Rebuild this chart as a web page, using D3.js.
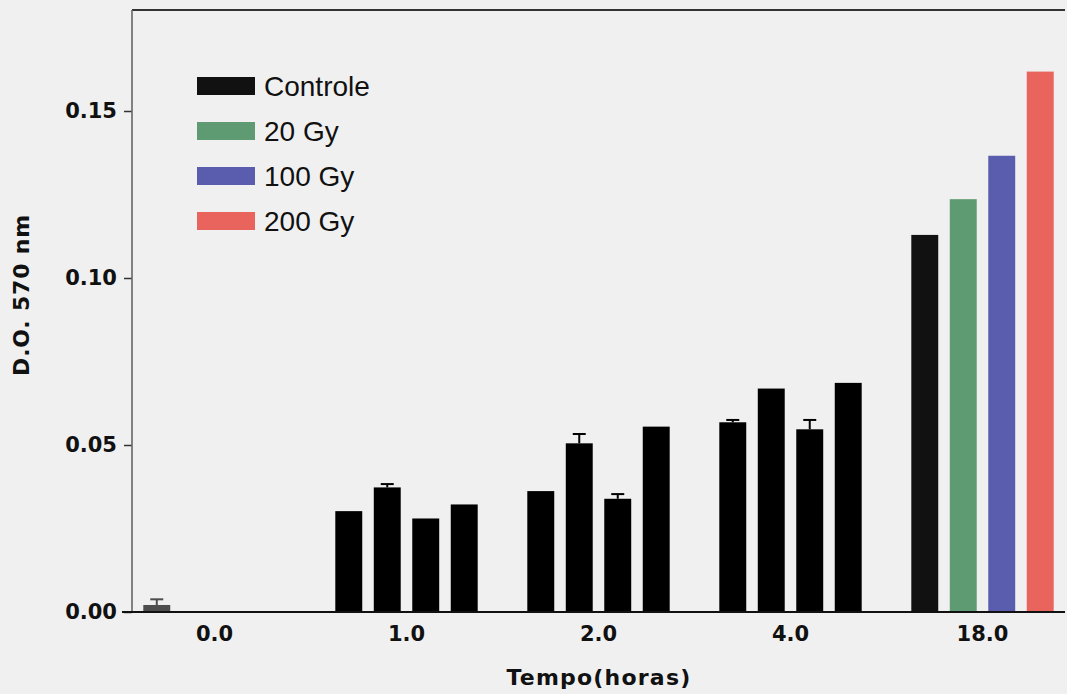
<!DOCTYPE html>
<html>
<head>
<meta charset="utf-8">
<script src="https://cdn.jsdelivr.net/npm/d3@7"></script>
<style>
  html, body { margin: 0; padding: 0; background: #f0f0f0; }
  svg { display: block; }
</style>
</head>
<body>
<svg id="chart" width="1067" height="694"></svg>
<script>
// ---- data ----
const categories = ["0.0", "1.0", "2.0", "4.0", "18.0"];
const series = ["Controle", "20 Gy", "100 Gy", "200 Gy"];
const controle = [0.0021, 0.0302, 0.0362, 0.0568, 0.1129];
const gy20     = [0.0,    0.0373, 0.0505, 0.0669, 0.1236];
const gy100    = [0.0,    0.0280, 0.0339, 0.0547, 0.1366];
const gy200    = [0.0,    0.0322, 0.0555, 0.0686, 0.1618];
const controleErr = [0.0017, 0.0,    0.0,    0.0007, 0.0];
const gy20Err     = [0.0,    0.0010, 0.0028, 0.0,    0.0];
const gy100Err    = [0.0,    0.0,    0.0014, 0.0028, 0.0];
const gy200Err    = [0.0,    0.0,    0.0,    0.0,    0.0];
const yTicks = [0.00, 0.05, 0.10, 0.15];

// ---- styles ----
const seriesColors = ["#111111", "#5f9b72", "#5a5cae", "#e8645c"];
const colouredCategory = "18.0";

const values = [controle, gy20, gy100, gy200];
const errors = [controleErr, gy20Err, gy100Err, gy200Err];
const rows = [];
categories.forEach((c, ci) => {
  series.forEach((s, si) => {
    rows.push({cat: c, ser: s, si, v: values[si][ci], e: errors[si][ci]});
  });
});

const svg = d3.select("#chart");
const plotLeft = 132, plotRight = 1065, plotTop = 10, plotBottom = 612;

const x = d3.scaleBand().domain(categories).range([118.5, 1078.5]).padding(0);
const xs = d3.scaleBand().domain(series).range([-71.2, 71.2]).paddingInner(0.3).paddingOuter(0);
const y = d3.scaleLinear().domain([0, 0.18]).range([plotBottom, 10.8]);

// frame: top line
svg.append("line").attr("x1", plotLeft).attr("x2", plotRight).attr("y1", plotTop).attr("y2", plotTop)
  .attr("stroke", "#333").attr("stroke-width", 2);

// bars
const barFill = d => {
  if (d.cat === colouredCategory) return seriesColors[d.si];
  if (d.cat === categories[0]) return "#4d4d4d";
  return "#000";
};
const g = svg.append("g");
g.selectAll("rect.bar").data(rows.filter(d => d.v > 0)).join("rect")
  .attr("class", "bar")
  .attr("x", d => x(d.cat) + x.bandwidth() / 2 + xs(d.ser))
  .attr("width", xs.bandwidth())
  .attr("y", d => y(d.v))
  .attr("height", d => y(0) - y(d.v))
  .attr("fill", barFill);

// error bars
const errRows = rows.filter(d => d.e > 0);
const cx = d => x(d.cat) + x.bandwidth() / 2 + xs(d.ser) + xs.bandwidth() / 2;
g.selectAll("line.err").data(errRows).join("line")
  .attr("class", "err")
  .attr("x1", cx).attr("x2", cx)
  .attr("y1", d => y(d.v)).attr("y2", d => y(d.v + d.e))
  .attr("stroke", d => barFill(d)).attr("stroke-width", 2);
g.selectAll("line.cap").data(errRows).join("line")
  .attr("class", "cap")
  .attr("x1", d => cx(d) - 6.5).attr("x2", d => cx(d) + 6.5)
  .attr("y1", d => y(d.v + d.e)).attr("y2", d => y(d.v + d.e))
  .attr("stroke", d => barFill(d)).attr("stroke-width", 2);

// y axis
const yAxis = svg.append("g").attr("transform", `translate(${plotLeft},0)`)
  .call(d3.axisLeft(y).tickValues(yTicks).tickFormat(d3.format(".2f")).tickSizeInner(8).tickSizeOuter(0).tickPadding(7));
yAxis.select(".domain").remove();
yAxis.selectAll(".tick line").attr("stroke", "#333").attr("stroke-width", 1.5);
yAxis.selectAll(".tick text")
  .attr("font-family", "DejaVu Sans").attr("font-weight", "bold")
  .attr("font-size", 21).attr("fill", "#111");
svg.append("line").attr("x1", plotLeft).attr("x2", plotLeft).attr("y1", plotTop).attr("y2", plotBottom)
  .attr("stroke", "#666").attr("stroke-width", 1.6);

// x axis
const xAxis = svg.append("g").attr("transform", `translate(0,${plotBottom})`)
  .call(d3.axisBottom(x).tickSizeInner(0).tickSizeOuter(0).tickPadding(14));
xAxis.select(".domain").remove();
xAxis.selectAll(".tick text")
  .attr("font-family", "DejaVu Sans").attr("font-weight", "bold")
  .attr("font-size", 21).attr("fill", "#111");
svg.append("line").attr("x1", plotLeft - 10).attr("x2", plotRight).attr("y1", plotBottom).attr("y2", plotBottom)
  .attr("stroke", "#111").attr("stroke-width", 2);

// axis titles
svg.append("text").attr("x", 599).attr("y", 685)
  .attr("text-anchor", "middle")
  .attr("font-family", "DejaVu Sans").attr("font-weight", "bold")
  .attr("font-size", 22).attr("letter-spacing", 1.2).attr("fill", "#111")
  .text("Tempo(horas)");
svg.append("text")
  .attr("transform", "translate(29,295) rotate(-90)")
  .attr("text-anchor", "middle")
  .attr("font-family", "DejaVu Sans").attr("font-weight", "bold")
  .attr("font-size", 22).attr("letter-spacing", 0.8).attr("fill", "#111")
  .text("D.O. 570 nm");

// legend
const lg = svg.append("g");
const legendRow = d3.scalePoint().domain(series).range([86, 221]);
lg.selectAll("rect").data(series).join("rect")
  .attr("x", 197).attr("width", 58)
  .attr("y", d => legendRow(d) - 9).attr("height", 18)
  .attr("fill", (d, i) => seriesColors[i]);
lg.selectAll("text").data(series).join("text")
  .attr("x", 264).attr("y", d => legendRow(d)).attr("dy", "0.35em")
  .attr("font-family", "Liberation Sans, Arial, sans-serif")
  .attr("font-size", 28).attr("fill", "#111")
  .text(d => d);
</script>
</body>
</html>
